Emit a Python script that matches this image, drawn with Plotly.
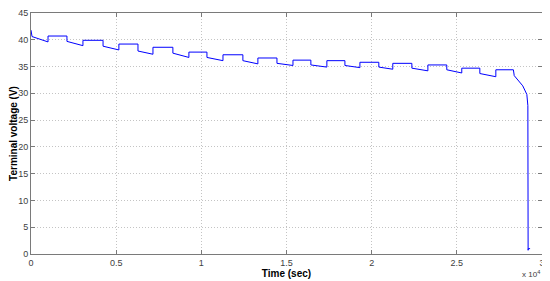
import plotly.graph_objects as go

# terminal voltage record (time in seconds, voltage in volts)
time_s = [
    0, 60, 1000, 1000, 2110, 2110, 3050, 3050, 4230, 4230, 5160, 5160,
    6280, 6280, 7160, 7160, 8330, 8330, 9270, 9270, 10330, 10330, 11270, 11270,
    12440, 12440, 13320, 13320, 14440, 14440, 15380, 15380, 16430, 16430,
    17370, 17370, 18430, 18430, 19310, 19310, 20420, 20420, 21240, 21240,
    22360, 22360, 23300, 23300, 24410, 24410, 25290, 25290, 26350, 26350,
    27290, 27290, 28320, 28370, 28870, 29110, 29170, 29185, 29195, 29300,
]
voltage = [
    41.8, 40.6, 39.6, 40.7, 40.7, 39.7, 38.9, 39.9, 39.9, 38.8, 38.1, 39.2,
    39.2, 37.9, 37.3, 38.6, 38.6, 37.5, 36.7, 37.7, 37.7, 36.7, 36.1, 37.2,
    37.2, 36.1, 35.5, 36.6, 36.6, 35.6, 35.2, 36.2, 36.2, 35.3,
    34.9, 36.1, 36.1, 35.2, 34.8, 35.8, 35.8, 34.9, 34.5, 35.6,
    35.6, 34.7, 34.2, 35.3, 35.3, 34.4, 33.8, 34.7, 34.7, 33.7,
    33.1, 34.4, 34.4, 33.3, 31.4, 29.8, 27.7, 0.7, 1.0, 1.0,
]

x_ticks = [0, 5000, 10000, 15000, 20000, 25000, 30000]
x_labels = ["0", "0.5", "1", "1.5", "2", "2.5", "3"]
y_ticks = [0, 5, 10, 15, 20, 25, 30, 35, 40, 45]

fig = go.Figure()
fig.add_scatter(x=time_s, y=voltage, mode="lines",
                line=dict(color="#0000ff", width=1), showlegend=False)

axis_style = dict(
    showgrid=True, gridcolor="#c4c4c4", griddash="1px,2px", gridwidth=1,
    showline=True, linecolor="#7a7a7a", linewidth=1, mirror="ticks",
    ticks="inside", ticklen=4, tickcolor="#7a7a7a",
    tickfont=dict(family="Liberation Sans, Arial", size=9, color="#404040"),
    zeroline=False, automargin=False, ticklabeloverflow="allow",
)
fig.update_xaxes(range=[0, 30000], tickvals=x_ticks, ticktext=x_labels,
                 title=dict(text="<b>Time (sec)</b>", standoff=2,
                            font=dict(family="Liberation Sans, Arial", size=10, color="#000")),
                 **axis_style)
fig.update_yaxes(range=[0, 45], tickvals=y_ticks,
                 title=dict(text="<b>Terminal voltage (V)</b>", standoff=2,
                            font=dict(family="Liberation Sans, Arial", size=10, color="#000")),
                 **axis_style)
fig.add_annotation(text="x 10<sup>4</sup>", xref="paper", yref="paper",
                   x=1, y=0, yshift=-13, xanchor="right", yanchor="top",
                   showarrow=False,
                   font=dict(family="Liberation Sans, Arial", size=8, color="#404040"))
# page body adds 8px offset, so the figure is sized to fill the rest of the window
fig.update_layout(
    width=542, height=273,
    margin=dict(l=23, r=8, t=5, b=27),
    plot_bgcolor="white", paper_bgcolor="white",
)
fig.write_html("out.html")
